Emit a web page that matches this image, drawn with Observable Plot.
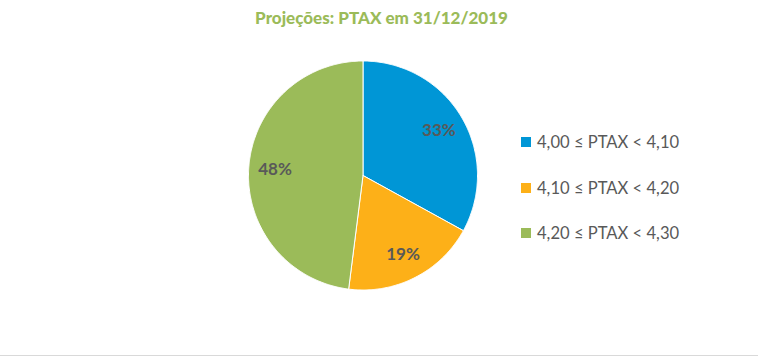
<!DOCTYPE html>
<html><head><meta charset="utf-8">
<script src="https://cdn.jsdelivr.net/npm/d3@7"></script>
<script src="https://cdn.jsdelivr.net/npm/@observablehq/plot@0.6"></script>
<style>
body{margin:0;background:#fff;}
#wrap{position:relative;width:759px;height:358px;overflow:hidden;font-family:Lato,"Open Sans",sans-serif;}
#title{position:absolute;left:0;width:759px;top:7px;text-align:center;font-weight:900;font-size:17px;color:#9BBB59;padding-left:2px;}
#legend{position:absolute;left:521px;top:131px;}
.li{display:flex;align-items:center;height:22px;margin-bottom:23.5px;color:#595959;font-size:16.6px;}
.sw{width:10px;height:10px;margin-right:6px;}
#base{position:absolute;left:0;top:355px;width:758px;height:0;border-top:1px solid #d9d9d9;}
#chart{position:absolute;left:0;top:0;}
</style></head>
<body><div id="wrap"><div id="chart"></div><div id="title"></div><div id="legend"></div><div id="base"></div></div>
<script>
const title = "Projeções: PTAX em 31/12/2019";
const categories = ["4,00 ≤ PTAX < 4,10", "4,10 ≤ PTAX < 4,20", "4,20 ≤ PTAX < 4,30"];
const values = [33, 19, 48];
const colors = ["#0096D6", "#FDB018", "#9BBB59"];
const labels = ["33%", "19%", "48%"];

document.getElementById("title").textContent = title;
const leg = document.getElementById("legend");
categories.forEach((c, i) => {
  const d = document.createElement("div"); d.className = "li";
  const s = document.createElement("div"); s.className = "sw"; s.style.background = colors[i];
  const t = document.createElement("span"); t.textContent = c;
  d.appendChild(s); d.appendChild(t); leg.appendChild(d);
});

const total = d3.sum(values);
const pts = [];
const lab = [];
let acc = 0;
values.forEach((v, i) => {
  const a0 = acc / total * 2 * Math.PI;
  acc += v;
  const a1 = acc / total * 2 * Math.PI;
  pts.push({cat: categories[i], x: 0, y: 0});
  const n = Math.max(2, Math.ceil((a1 - a0) / 0.01));
  for (let k = 0; k <= n; k++) {
    const a = a0 + (a1 - a0) * k / n;
    pts.push({cat: categories[i], x: Math.sin(a), y: Math.cos(a)});
  }
  pts.push({cat: categories[i], x: 0, y: 0});
  const am = (a0 + a1) / 2;
  lab.push({label: labels[i], x: 0.77 * Math.sin(am), y: 0.77 * Math.cos(am)});
});

const plot = Plot.plot({
  width: 759, height: 358,
  margin: 0,
  style: {background: "transparent"},
  x: {domain: [-1, 1], range: [248, 477], axis: null},
  y: {domain: [-1, 1], range: [289.5, 60.5], axis: null},
  color: {domain: categories, range: colors},
  marks: [
    Plot.line(pts, {x: "x", y: "y", z: "cat", fill: "cat", stroke: "white", strokeWidth: 1, curve: "linear"}),
    Plot.text(lab, {x: "x", y: "y", text: "label", fill: "#595959", fontWeight: "bold", fontSize: 17, fontFamily: "Lato, 'Open Sans', sans-serif"})
  ]
});
document.getElementById("chart").appendChild(plot);
</script></body></html>
